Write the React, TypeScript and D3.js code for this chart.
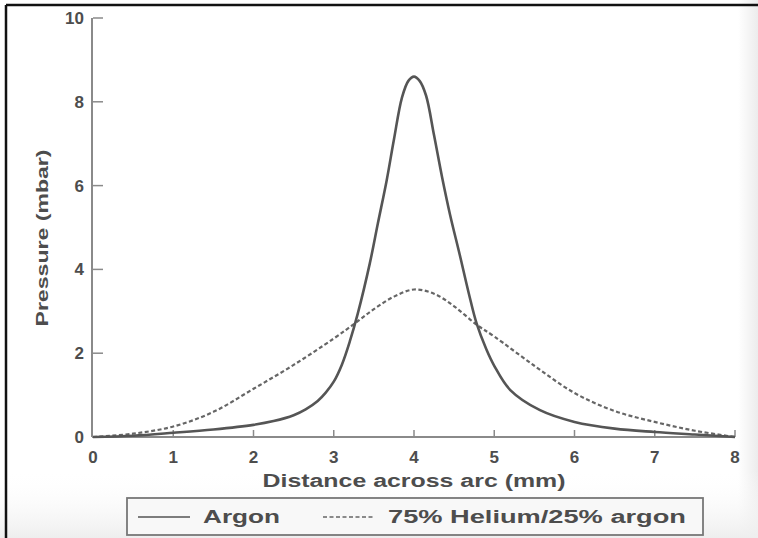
import React from "react";
import * as d3 from "d3";

const argonX = [0, 0.5, 1, 1.5, 2, 2.25, 2.5, 2.65, 2.8, 2.9, 3.0, 3.1, 3.2, 3.3, 3.45, 3.55, 3.66, 3.75, 3.85, 3.93, 4.0, 4.07, 4.15, 4.25, 4.35, 4.45, 4.57, 4.68, 4.78, 4.9, 5.0, 5.2, 5.57, 6.0, 6.5, 7.0, 7.5, 8.0];
const argonY = [0, 0.03, 0.1, 0.18, 0.29, 0.38, 0.52, 0.66, 0.86, 1.06, 1.32, 1.72, 2.28, 2.95, 4.15, 5.1, 6.13, 7.1, 8.1, 8.5, 8.6, 8.5, 8.15, 7.2, 6.2, 5.3, 4.35, 3.45, 2.71, 2.1, 1.7, 1.12, 0.64, 0.36, 0.2, 0.12, 0.06, 0];

const heliumX = [0, 0.5, 1, 1.5, 2, 2.5, 3.0, 3.27, 3.5, 3.75, 4.0, 4.25, 4.5, 4.78, 5.0, 5.5, 6.0, 6.5, 7.0, 7.5, 8.0];
const heliumY = [0, 0.08, 0.25, 0.6, 1.15, 1.72, 2.35, 2.72, 3.05, 3.35, 3.52, 3.42, 3.12, 2.68, 2.4, 1.7, 1.05, 0.62, 0.36, 0.15, 0];

const xTicks = [0, 1, 2, 3, 4, 5, 6, 7, 8];
const yTicks = [0, 2, 4, 6, 8, 10];

const seriesNames = ["Argon", "75% Helium/25% argon"];
const xTitle = "Distance across arc (mm)";
const yTitle = "Pressure (mbar)";

export default function App() {
  const W = 758, H = 538;
  const x = d3.scaleLinear().domain([0, 8]).range([93, 735]);
  const y = d3.scaleLinear().domain([0, 10]).range([437, 18]);
  const line = d3.line<[number, number]>().x(d => x(d[0])).y(d => y(d[1])).curve(d3.curveCatmullRom.alpha(0.5));
  const argon = line(argonX.map((v, i) => [v, argonY[i]] as [number, number])) || "";
  const helium = line(heliumX.map((v, i) => [v, heliumY[i]] as [number, number])) || "";
  const font = "'Liberation Sans', Arial, sans-serif";
  const txt = "#4d4d4d";
  const axis = "#8a8a8a";
  return (
    <svg width={W} height={H} style={{ position: "absolute", left: 0, top: 0 }} fontFamily={font}>
      <defs>
        <linearGradient id="bgR" x1="0" x2="1" y1="0" y2="0">
          <stop offset="0" stopColor="#ffffff" />
          <stop offset="1" stopColor="#ececec" />
        </linearGradient>
        <linearGradient id="bgB" x1="0" x2="0" y1="0" y2="1">
          <stop offset="0" stopColor="#ffffff" stopOpacity="0" />
          <stop offset="1" stopColor="#eeeeee" />
        </linearGradient>
      </defs>
      <rect x={0} y={0} width={W} height={H} fill="#ffffff" />
      <rect x={738} y={0} width={20} height={H} fill="url(#bgR)" />
      <rect x={0} y={470} width={W} height={68} fill="url(#bgB)" />
      {/* frame */}
      <line x1={6} y1={5} x2={W} y2={5} stroke="#111" strokeWidth={2.5} />
      <line x1={6} y1={5} x2={6} y2={H} stroke="#111" strokeWidth={2.5} />

      {/* axes */}
      <line x1={x(0) - 1} y1={y(10)} x2={x(0) - 1} y2={y(0)} stroke={axis} strokeWidth={2} />
      <line x1={x(0) - 1} y1={y(0)} x2={x(8)} y2={y(0)} stroke={axis} strokeWidth={2} />
      {yTicks.map(t => (
        <g key={"y" + t}>
          <line x1={x(0)} x2={x(0) + 10} y1={y(t)} y2={y(t)} stroke={axis} strokeWidth={1.5} />
          <text x={84} y={y(t)} dy="0.35em" textAnchor="end" fontSize={17} fontWeight="bold" fill={txt}>{t}</text>
        </g>
      ))}
      {xTicks.map(t => (
        <g key={"x" + t}>
          {t > 0 && <line x1={x(t)} x2={x(t)} y1={y(0)} y2={y(0) - 7} stroke={axis} strokeWidth={1.5} />}
          <text x={x(t)} y={463} textAnchor="middle" fontSize={17} fontWeight="bold" fill={txt}>{t}</text>
        </g>
      ))}

      {/* curves */}
      <path d={helium} fill="none" stroke="#666" strokeWidth={2.2} strokeDasharray="4,2.5" />
      <path d={argon} fill="none" stroke="#555" strokeWidth={2.6} />

      {/* titles */}
      <text x={414} y={487} textAnchor="middle" fontSize={18} fontWeight="bold" fill={txt} textLength={303} lengthAdjust="spacingAndGlyphs">{xTitle}</text>
      <text transform="translate(48,238) rotate(-90)" textAnchor="middle" fontSize={17} fontWeight="bold" fill={txt} textLength={177} lengthAdjust="spacingAndGlyphs">{yTitle}</text>

      {/* legend */}
      <rect x={127} y={498} width={576} height={37} fill="#f8f8f8" stroke="#777" strokeWidth={1.8} />
      <line x1={138} x2={190} y1={517} y2={517} stroke="#555" strokeWidth={1.6} />
      <text x={203} y={523} fontSize={18} fontWeight="bold" fill={txt} textLength={77} lengthAdjust="spacingAndGlyphs">{seriesNames[0]}</text>
      <line x1={323} x2={373} y1={517} y2={517} stroke="#666" strokeWidth={1.6} strokeDasharray="4,2.5" />
      <text x={388} y={523} fontSize={18} fontWeight="bold" fill={txt} textLength={298} lengthAdjust="spacingAndGlyphs">{seriesNames[1]}</text>
    </svg>
  );
}
